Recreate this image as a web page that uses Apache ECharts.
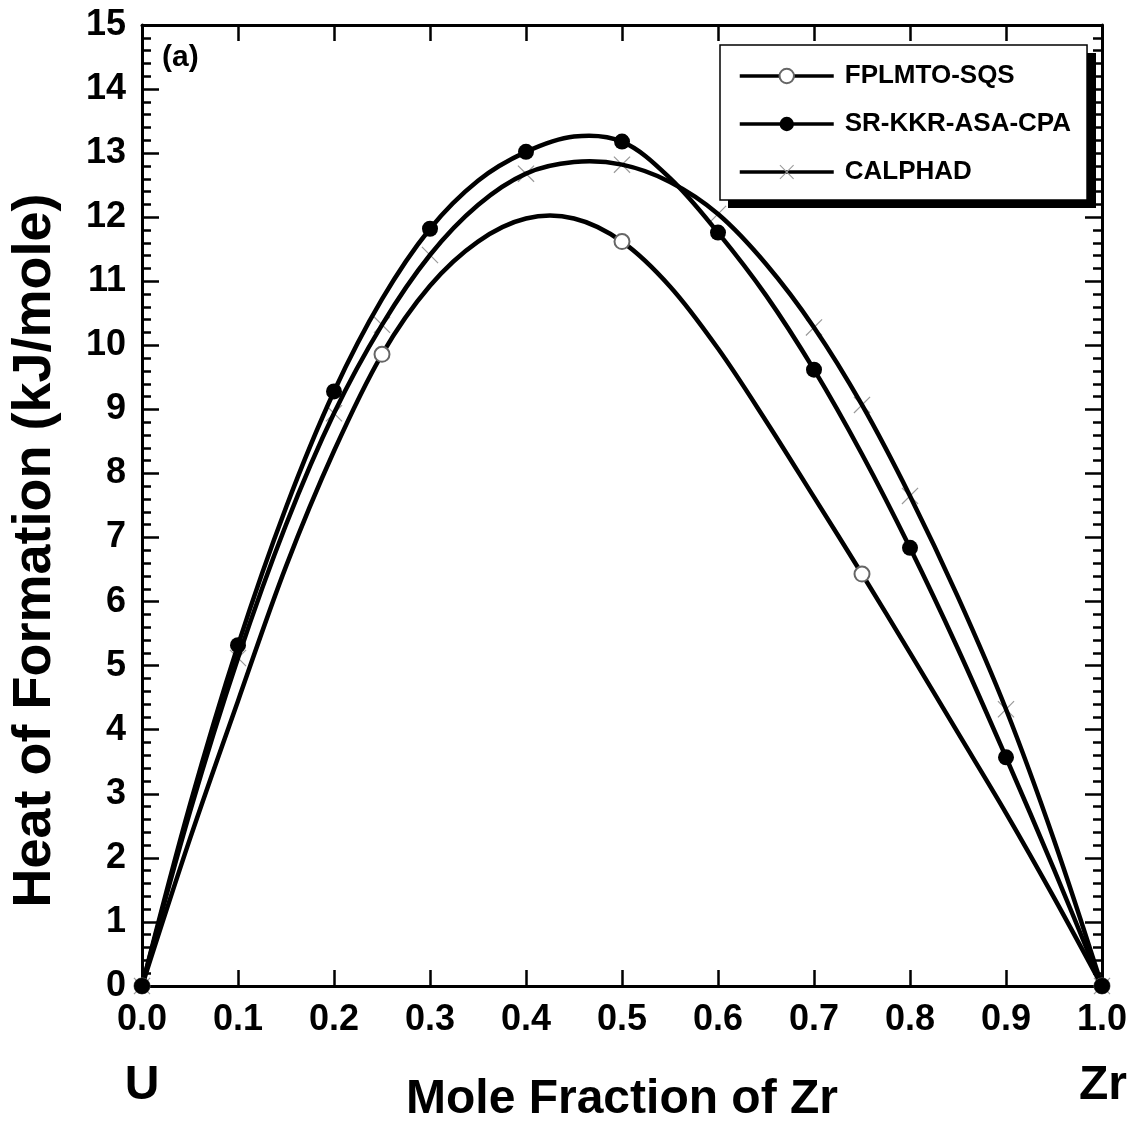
<!DOCTYPE html>
<html><head><meta charset="utf-8">
<script src="https://cdn.jsdelivr.net/npm/echarts@6/dist/echarts.min.js"></script>
<style>html,body{margin:0;padding:0;background:#fff}#c{width:1137px;height:1122px}</style>
</head><body><div id="c"></div>
<script>
// ---- data ----
// fitted curves
const curveX = [0,0.05,0.1,0.15,0.2,0.25,0.3,0.35,0.4,0.45,0.5,0.55,0.6,0.65,0.7,0.75,0.8,0.85,0.9,0.95,1.0];
const fplmtoCurve = [0,2.3,4.45,6.55,8.35,9.86,10.93,11.62,11.98,11.98,11.62,10.92,9.95,8.82,7.63,6.43,5.2,3.95,2.7,1.38,0];
const srkkrCurve  = [0,2.83,5.32,7.47,9.28,10.72,11.82,12.57,13.02,13.26,13.18,12.61,11.76,10.78,9.62,8.3,6.84,5.26,3.57,1.82,0];
const calphadCurve= [0,2.72,5.12,7.2,8.94,10.32,11.41,12.19,12.68,12.86,12.82,12.55,12.05,11.27,10.28,9.07,7.65,6.07,4.32,2.28,0];

// calculated points (markers)
const fplmtoX = [0,0.25,0.5,0.75,1.0];
const fplmtoY = [0,9.86,11.62,6.43,0];
const srkkrX = [0,0.1,0.2,0.3,0.4,0.5,0.6,0.7,0.8,0.9,1.0];
const srkkrY = [0,5.32,9.28,11.82,13.02,13.18,11.76,9.62,6.84,3.57,0];
const calphadX = [0,0.1,0.2,0.25,0.3,0.4,0.5,0.6,0.7,0.75,0.8,0.9,1.0];
const calphadY = [0,5.12,8.94,10.32,11.41,12.68,12.82,12.05,10.28,9.07,7.65,4.32,0];

const seriesNames = ['FPLMTO-SQS','SR-KKR-ASA-CPA','CALPHAD'];
const xTitle = 'Mole Fraction of Zr';
const yTitle = 'Heat of Formation (kJ/mole)';

// ---- chart ----
const zip = (xs, ys) => xs.map((x, i) => [x, ys[i]]);
const FONT = "'Liberation Sans', Arial, Helvetica, sans-serif";
const crossPath = 'path://M0,1L1,0L10,9L19,0L20,1L11,10L20,19L19,20L10,11L1,20L0,19L9,10Z';

function curveSeries(name, xs, ys) {
  return {
    type: 'custom', name: name, silent: true, z: 3,
    data: zip(xs, ys),
    encode: {x: 0, y: 1},
    renderItem: function (params, api) {
      if (params.dataIndexInside !== 0) return null;
      const pts = [];
      for (let i = 0; i < params.dataInsideLength; i++) {
        pts.push(api.coord([api.value(0, i), api.value(1, i)]));
      }
      return {
        type: 'polyline',
        shape: {points: pts, smooth: 0.35},
        style: {stroke: '#000', lineWidth: 4.5, fill: null, lineJoin: 'round', lineCap: 'round'}
      };
    }
  };
}

function markerSeries(name, xs, ys, symbol, size, color, z) {
  return {
    type: 'line', name: name, data: zip(xs, ys), z: z, silent: true,
    showSymbol: true, symbol: symbol, symbolSize: size, symbolKeepAspect: true,
    itemStyle: {color: color, opacity: 1},
    lineStyle: {opacity: 0, width: 0},
    emphasis: {disabled: true}
  };
}

const chart = echarts.init(document.getElementById('c'), null, {renderer: 'canvas'});

chart.setOption({
  animation: false,
  backgroundColor: '#fff',
  textStyle: {fontFamily: FONT},
  grid: {left: 142, right: 35, top: 25, bottom: 136, outerBoundsMode: 'none', containLabel: false},
  xAxis: [{
    type: 'value', min: 0, max: 1, interval: 0.1, position: 'bottom',
    axisLine: {show: true, onZero: false, lineStyle: {color: '#000', width: 3}},
    axisTick: {show: true, inside: true, length: 16, lineStyle: {color: '#000', width: 2.5}},
    minorTick: {show: false},
    splitLine: {show: false},
    axisLabel: {margin: 16, color: '#000', fontSize: 36, fontWeight: 'bold', fontFamily: FONT,
      formatter: v => v.toFixed(1), showMinLabel: true, showMaxLabel: true},
    name: xTitle, nameLocation: 'middle', nameGap: 90,
    nameTextStyle: {color: '#000', fontSize: 48, fontWeight: 'bold', fontFamily: FONT}
  }, {
    type: 'value', min: 0, max: 1, interval: 0.1, position: 'top',
    axisLine: {show: true, onZero: false, lineStyle: {color: '#000', width: 3}},
    axisTick: {show: true, inside: true, length: 16, lineStyle: {color: '#000', width: 2.5}},
    axisLabel: {show: false}, splitLine: {show: false}
  }],
  yAxis: [{
    type: 'value', min: 0, max: 15, interval: 1, position: 'left',
    axisLine: {show: true, onZero: false, lineStyle: {color: '#000', width: 3}},
    axisTick: {show: true, inside: true, length: 17, lineStyle: {color: '#000', width: 2.5}},
    minorTick: {show: true, splitNumber: 5, length: 9, lineStyle: {color: '#000', width: 2.5}},
    splitLine: {show: false},
    axisLabel: {margin: 16, color: '#000', fontSize: 36, fontWeight: 'bold', fontFamily: FONT},
    name: yTitle, nameLocation: 'middle', nameGap: 80,
    nameTextStyle: {color: '#000', fontSize: 54, fontWeight: 'bold', fontFamily: FONT, padding: [0, 90, 0, 0]}
  }, {
    type: 'value', min: 0, max: 15, interval: 1, position: 'right',
    axisLine: {show: true, onZero: false, lineStyle: {color: '#000', width: 3}},
    axisTick: {show: true, inside: true, length: 17, lineStyle: {color: '#000', width: 2.5}},
    minorTick: {show: true, splitNumber: 5, length: 9, lineStyle: {color: '#000', width: 2.5}},
    axisLabel: {show: false}, splitLine: {show: false}
  }],
  legend: {
    orient: 'vertical', left: 720, top: 45, z: 10,
    padding: [18, 16, 15, 18], itemGap: 22,
    itemWidth: 94, itemHeight: 18,
    backgroundColor: '#fff', borderColor: '#000', borderWidth: 1.5,
    lineStyle: {color: '#000', width: 3.5, opacity: 1, type: 'solid'},
    textStyle: {color: '#000', fontSize: 26, fontWeight: 'bold', fontFamily: FONT, padding: [0, 0, 0, 6]},
    selectedMode: false,
    data: seriesNames
  },
  graphic: [
    {type: 'rect', z: 9, silent: true, shape: {x: 728, y: 53, width: 368, height: 155}, style: {fill: '#000'}},
    {type: 'text', left: 162, top: 43, style: {text: '(a)', fill: '#000', font: 'bold 30px ' + FONT}},
    {type: 'text', x: 142, y: 1086, style: {text: 'U', fill: '#000', font: 'bold 48px ' + FONT, align: 'center', verticalAlign: 'middle'}},
    {type: 'text', x: 1103, y: 1086, style: {text: 'Zr', fill: '#000', font: 'bold 48px ' + FONT, align: 'center', verticalAlign: 'middle'}}
  ],
  series: [
    curveSeries('FPLMTO-SQS curve', curveX, fplmtoCurve),
    curveSeries('SR-KKR-ASA-CPA curve', curveX, srkkrCurve),
    curveSeries('CALPHAD curve', curveX, calphadCurve),
    markerSeries(seriesNames[2], calphadX, calphadY, crossPath, 17, '#999', 2),
    markerSeries(seriesNames[0], fplmtoX, fplmtoY, 'emptyCircle', 15, '#666', 4),
    markerSeries(seriesNames[1], srkkrX, srkkrY, 'circle', 16, '#000', 5)
  ]
});
</script>
</body></html>
